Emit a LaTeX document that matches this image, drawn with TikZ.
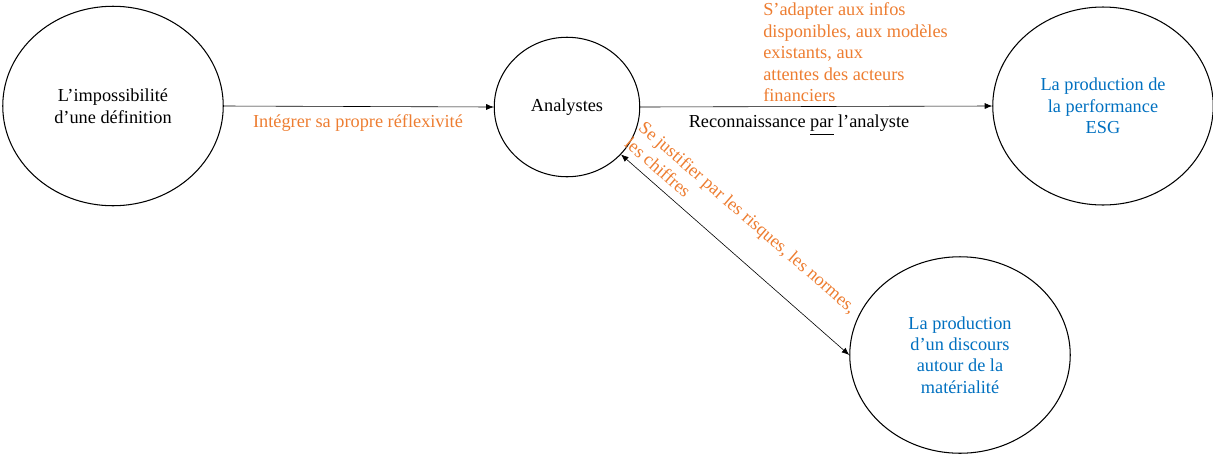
\documentclass[tikz,border=0pt]{standalone}
\usepackage{fontspec}
\setmainfont{Liberation Serif}
\usetikzlibrary{shapes.geometric,arrows.meta}
\definecolor{esgorange}{RGB}{237,125,49}
\definecolor{esgblue}{RGB}{0,112,192}

\begin{document}
\begin{tikzpicture}[x=0.6667pt, y=-0.6667pt, font=\fontsize{12.2}{14.3}\selectfont,
	bubble/.style={draw, ellipse, line width=0.7pt, inner sep=0pt, align=center},
	link/.style={line width=0.4pt, -{Latex[length=5pt,width=4pt]}},
	note/.style={text=esgorange, align=left}]

	\useasboundingbox (0,0) rectangle (1213,455);

	\node[bubble, minimum width=147pt, minimum height=133pt] (defin) at (113,106) {L’impossibilité\\d’une définition};
	\node[bubble, minimum width=97pt, minimum height=93pt] (ana) at (567,107) {Analystes};
	\node[bubble, minimum width=147pt, minimum height=132pt, text=esgblue] (perf) at (1103,106) {La production de\\la performance\\ESG};
	\node[bubble, minimum width=147pt, minimum height=131pt, text=esgblue] (mat) at (960,355) {La production\\d’un discours\\autour de la\\matérialité};

	\draw[link] (defin.east) -- (ana.west);
	\draw[link] (ana.east) -- (perf.west);
	\draw[link, {Latex[length=5pt,width=4pt]}-{Latex[length=5pt,width=4pt]}] (ana) -- (mat.west);

	\node[note] (reflex) at (358,123) {Intégrer sa propre réflexivité};
	\node[note, anchor=south west, inner sep=0pt] (adapt) at (763,102) {S’adapter aux infos\\disponibles, aux modèles\\existants, aux\\attentes des acteurs\\financiers};
	\node (recon) at (799,125) {Reconnaissance \underline{par} l’analyste};
	\node[note, rotate=-41] (justif) at (741,225) {Se justifier par les risques, les normes,\\les chiffres};

\end{tikzpicture}
\end{document}
